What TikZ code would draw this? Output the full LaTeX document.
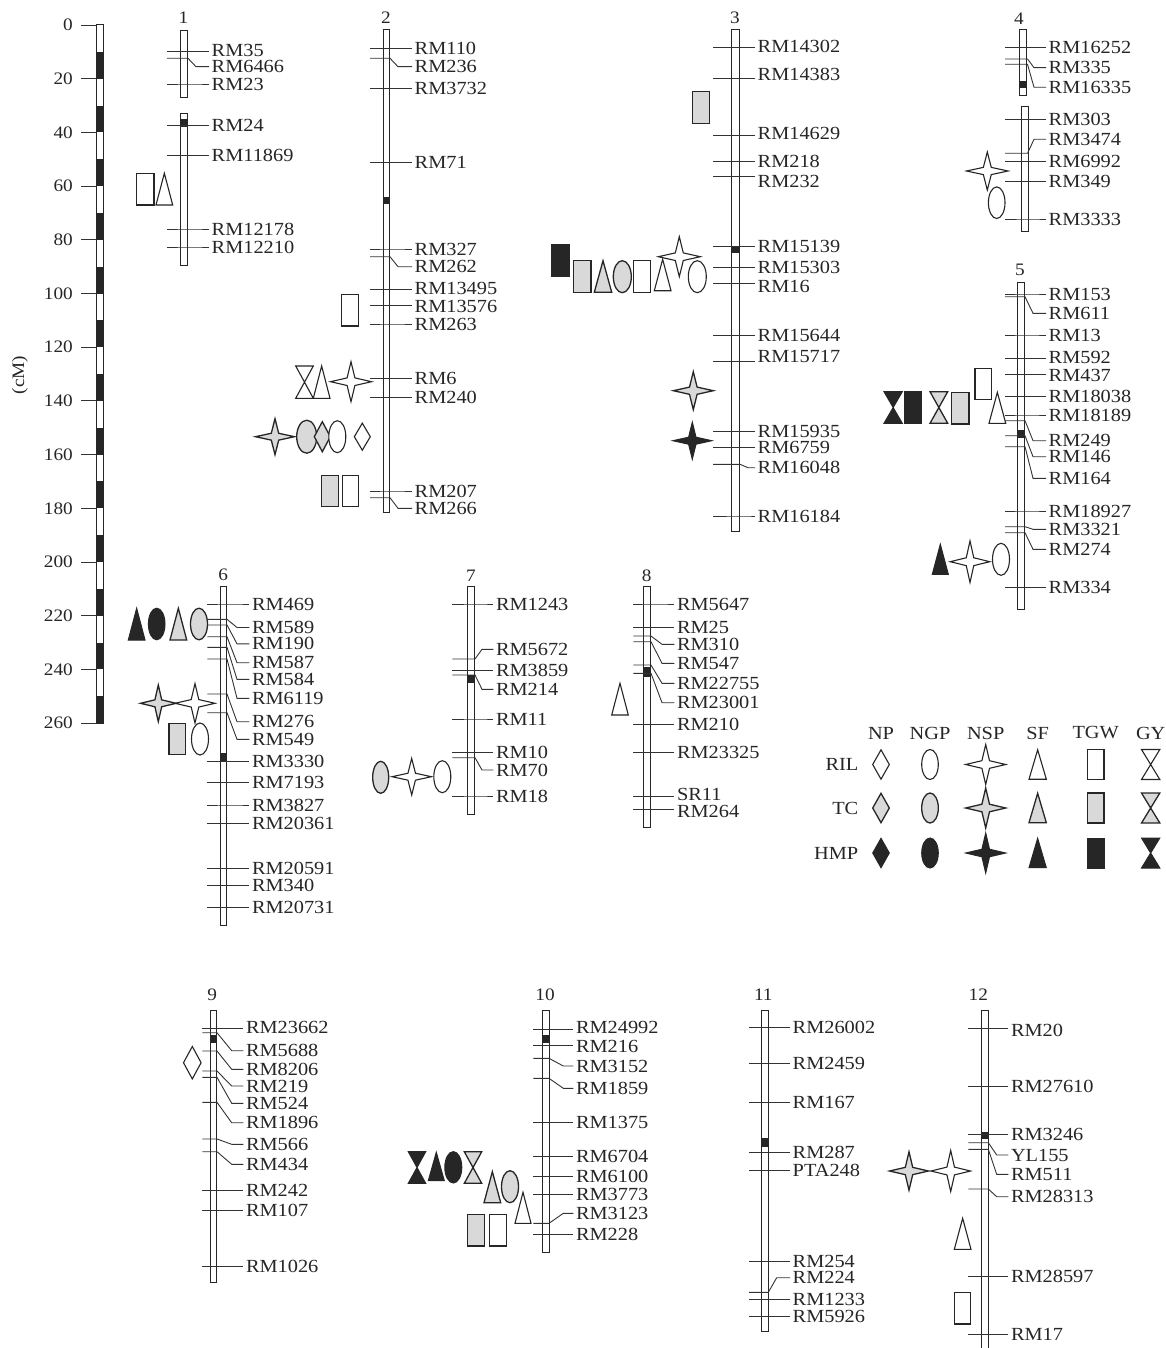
\documentclass[tikz,border=0pt]{standalone}
\usepackage{fontspec}
\setmainfont{Liberation Serif}[FakeStretch=1.1]
\newcommand{\lblf}{\fontsize{18.5}{22}\selectfont}
\newcommand{\numf}{\fontsize{17.5}{21}\selectfont}
\tikzset{
 lab/.style={anchor=west, inner sep=2.5pt, font=\lblf, text=black!85},
 mline/.style={draw=black!80, line width=0.9pt},
 chrom/.style={draw=black!85, line width=1pt, fill=white},
 cenb/.style={fill=black!85, draw=none},
 ril/.style={draw=black!85, line width=1.1pt, fill=white},
 tc/.style={draw=black!85, line width=1.3pt, fill=gray!30},
 hmp/.style={draw=black!85, line width=1pt, fill=black!85},
 chn/.style={font=\numf, text=black!85, inner sep=0pt},
}
\newcommand{\setchr}[4]{\def\cxl{#1}\def\cxr{#2}\def\cxb{#3}\def\cxe{#4}}
\newcommand{\mk}[3]{\node[lab] (#3) at (\cxe,#2) {#3};
 \draw[mline] (\cxl,#1) -- (\cxr,#1) -- (\cxb,#2) -- (#3.west);}
\newcommand{\mks}[3]{\node[lab] (#3) at (\cxe,#2) {#3};
 \draw[mline] (\cxl,#1) -- (\cxe,#1);}
\newcommand{\reS}[5]{\draw[#1] (#2,#3) rectangle (#4,#5);}
\newcommand{\triS}[5]{\draw[#1,line join=miter] ({(#2+#4)/2},#3) -- (#4,#5) -- (#2,#5) -- cycle;}
\newcommand{\hgS}[5]{\draw[#1,line join=miter] (#2,#3) -- (#4,#3) -- (#2,#5) -- (#4,#5) -- cycle;}
\newcommand{\elS}[5]{\draw[#1] (#2,#3) ellipse [x radius=#4pt, y radius=#5pt];}
\newcommand{\diaS}[5]{\draw[#1] (#2,#3-#5) -- (#2+#4,#3) -- (#2,#3+#5) -- (#2-#4,#3) -- cycle;}
\newcommand{\stS}[5]{\draw[#1] (#2,#3-#5) -- (#2+0.19*#4,#3-0.19*#5) -- (#2+#4,#3)
 -- (#2+0.19*#4,#3+0.19*#5) -- (#2,#3+#5)
 -- (#2-0.19*#4,#3+0.19*#5) -- (#2-#4,#3)
 -- (#2-0.19*#4,#3-0.19*#5) -- cycle;}
\begin{document}
\begin{tikzpicture}[x=1pt,y=-1pt]
\useasboundingbox[fill=white] (0,0) rectangle (1165,1348);
% ---------------- scale bar
\draw[chrom] (96,25) rectangle (103,723);
\foreach \k in {0,2,...,24}{\fill[black!85] (96,{25+(\k+1)*26.85}) rectangle (103,{25+(\k+2)*26.85});}
\draw[black!85,line width=1pt] (96,25) rectangle (103,723);
\foreach \v in {0,20,...,260}{
 \draw[mline] (81,{25+\v*2.685}) -- (96,{25+\v*2.685});
 \node[chn,anchor=east] (t\v) at (73,{25+\v*2.685}) {\v};}
\node[chn,rotate=90] (cM) at (20,375) {(cM)};
% ---------------- chromosome 1
\node[chn] (c1) at (183.5,18) {1};
\draw[chrom] (180.3,30.7) rectangle (187.3,98);
\draw[chrom] (180.3,113.3) rectangle (187.3,265);
\fill[cenb] (180.3,119.3) rectangle (187.3,126.7);
\setchr{167}{188}{196}{209}
\mks{51.7}{50.5}{RM35}\mk{58.3}{66.7}{RM6466}\mk{84}{84}{RM23}
\mk{125.7}{125.7}{RM24}\mk{155.3}{155.3}{RM11869}\mk{229}{229}{RM12178}\mk{247}{247}{RM12210}
\reS{ril}{136.7}{173.3}{154}{205}
\triS{ril}{156}{173.3}{172.7}{205}
% ---------------- chromosome 2
\node[chn] (c2) at (386,18) {2};
\draw[chrom] (383,29.3) rectangle (389.5,512.7);
\fill[cenb] (383,197.3) rectangle (389.5,204);
\setchr{370}{390}{398}{412}
\mk{48.7}{48.7}{RM110}\mk{58.3}{66.7}{RM236}\mk{88.3}{88.3}{RM3732}\mk{162.7}{162.7}{RM71}
\mk{249}{249}{RM327}\mk{256.7}{266.7}{RM262}\mks{289.3}{288.3}{RM13495}\mks{305}{306}{RM13576}
\mk{324}{324}{RM263}\mk{378.3}{378.3}{RM6}\mk{397.7}{397.7}{RM240}\mk{491}{491}{RM207}
\mk{497.7}{508.3}{RM266}
\reS{ril}{341.7}{294.3}{358.3}{326}
\hgS{ril}{295.7}{366}{313.3}{398.3}
\triS{ril}{313.3}{366}{330}{398.3}
\stS{ril}{351}{381.7}{20.5}{20}
\stS{tc}{275}{436.7}{19.5}{18}
\elS{tc}{306.7}{436.7}{10}{16.5}
\diaS{tc}{322.3}{436.7}{8}{15}
\elS{ril}{337.3}{436.7}{8.5}{16}
\diaS{ril}{362.3}{436.7}{8}{13.5}
\reS{tc}{321.7}{475.7}{338.3}{506.7}
\reS{ril}{342.3}{475.7}{358.3}{506.7}
% ---------------- chromosome 3
\node[chn] (c3) at (735,18) {3};
\draw[chrom] (731.7,29.3) rectangle (739,531.7);
\fill[cenb] (731.7,246) rectangle (739,253.3);
\setchr{713}{740}{748}{755}
\mks{47.7}{46}{RM14302}\mks{78.3}{74}{RM14383}\mks{135.7}{133.5}{RM14629}\mk{161.7}{161.7}{RM218}
\mks{176.7}{181}{RM232}\mk{246.7}{246.7}{RM15139}\mk{267.3}{267.3}{RM15303}\mks{283.3}{286}{RM16}
\mk{335.7}{335.7}{RM15644}\mks{361.7}{356}{RM15717}\mk{431.7}{431.7}{RM15935}\mk{447.7}{447.7}{RM6759}
\mk{464.3}{467.7}{RM16048}\mk{516}{516}{RM16184}
\reS{tc}{692.7}{91.7}{709.3}{123.3}
\reS{hmp}{551}{244.3}{569}{276}
\reS{tc}{573.3}{260.7}{591}{292.3}
\triS{tc}{594.3}{260.7}{611.7}{292.3}
\elS{tc}{622.3}{276.7}{9}{16}
\reS{ril}{633.3}{260.7}{650.7}{292.3}
\triS{ril}{654.3}{259.3}{671}{290.7}
\stS{ril}{679.3}{256.7}{21}{20}
\elS{ril}{697.3}{276.7}{9}{16}
\stS{tc}{693.3}{390.7}{20}{19}
\stS{hmp}{692.3}{440.7}{19.5}{18.5}
% ---------------- chromosome 4
\node[chn] (c4) at (1019,18.3) {4};
\draw[chrom] (1019.3,29.3) rectangle (1026.7,96);
\fill[cenb] (1019.3,81) rectangle (1026.7,88.3);
\draw[chrom] (1021,106.7) rectangle (1028.3,231.7);
\setchr{1005}{1027.5}{1034}{1046}
\mk{47.7}{47.7}{RM16252}\mk{59}{67.7}{RM335}\mk{64.3}{87.3}{RM16335}
\mk{119.3}{119.3}{RM303}\mk{153.3}{139.3}{RM3474}\mk{161.3}{161.3}{RM6992}
\mk{181.7}{181.7}{RM349}\mk{219}{219}{RM3333}
\stS{ril}{987.3}{171}{20.8}{19}
\elS{ril}{996.7}{202.7}{8.3}{15.8}
% ---------------- chromosome 5
\node[chn] (c5) at (1020,270) {5};
\draw[chrom] (1017.3,282.7) rectangle (1024.3,609.3);
\fill[cenb] (1017.3,430) rectangle (1024.3,437.7);
\setchr{1005}{1025}{1033}{1046}
\mk{294}{294}{RM153}\mk{296.7}{313.3}{RM611}\mk{335}{335}{RM13}\mks{358.3}{357.3}{RM592}
\mks{374}{375}{RM437}\mk{396.7}{396.7}{RM18038}\mk{415}{415}{RM18189}\mk{420.7}{440.7}{RM249}
\mk{435.7}{456.7}{RM146}\mk{446.7}{478.3}{RM164}\mk{511}{511}{RM18927}\mk{526.7}{529.3}{RM3321}
\mk{532.7}{549.3}{RM274}\mk{587.7}{587.7}{RM334}
\hgS{hmp}{884}{391.7}{902.3}{423.3}
\reS{hmp}{904.3}{391.7}{921.7}{423.3}
\hgS{tc}{930}{391.7}{947.7}{423.3}
\reS{tc}{951.7}{392.3}{969}{424}
\reS{ril}{975}{368.3}{991.7}{399.3}
\triS{ril}{989}{392.3}{1005.7}{423.3}
\triS{hmp}{932.3}{544.3}{948.3}{574.3}
\stS{ril}{970}{561.7}{19.7}{20.8}
\elS{ril}{1001}{559.3}{8.5}{16}
% ---------------- chromosome 6
\node[chn] (c6) at (223.3,575) {6};
\draw[chrom] (220,586) rectangle (226,925.7);
\fill[cenb] (220,753.3) rectangle (226,761.7);
\setchr{207.3}{227}{237}{249.3}
\mk{604}{604}{RM469}\mk{619.3}{627.5}{RM589}\mk{625}{643.8}{RM190}\mk{636.7}{662.7}{RM587}
\mk{647.3}{679.3}{RM584}\mk{659}{698.3}{RM6119}\mk{694}{721.7}{RM276}\mk{712.7}{739.3}{RM549}
\mk{761.7}{761.7}{RM3330}\mk{782.3}{782.3}{RM7193}\mk{805}{805}{RM3827}\mk{823.3}{823.3}{RM20361}
\mk{868.3}{868.3}{RM20591}\mk{885.7}{885.7}{RM340}\mk{907.7}{907.7}{RM20731}
\triS{hmp}{128.3}{608.3}{145}{640}
\elS{hmp}{156.7}{624}{8.3}{15.8}
\triS{tc}{170}{608.3}{186.7}{640}
\elS{tc}{199}{624}{8.5}{15.8}
\stS{tc}{158.3}{703.3}{17.8}{18.3}
\stS{ril}{195}{703.3}{20}{19.7}
\reS{tc}{169}{723.3}{185.7}{754.3}
\elS{ril}{200}{739}{8.5}{16}
% ---------------- chromosome 7
\node[chn] (c7) at (471,576) {7};
\draw[chrom] (467.7,586) rectangle (474.3,814);
\fill[cenb] (467.7,675) rectangle (474.3,683.3);
\setchr{452.3}{475}{482}{493.3}
\mk{604}{604}{RM1243}\mk{659}{649.3}{RM5672}\mk{670.5}{670.5}{RM3859}\mk{675}{689.3}{RM214}
\mk{719}{719}{RM11}\mk{752.3}{752.3}{RM10}\mk{757.7}{770}{RM70}\mk{796}{796}{RM18}
\elS{tc}{380.7}{777.3}{8}{16}
\stS{ril}{411.7}{776.7}{19.7}{18.3}
\elS{ril}{442.3}{776.7}{8.5}{16}
% ---------------- chromosome 8
\node[chn] (c8) at (646.7,576) {8};
\draw[chrom] (643.3,586) rectangle (650,827.3);
\fill[cenb] (643.3,667.3) rectangle (650,676.7);
\setchr{633.3}{651}{662}{674.3}
\mk{604}{604}{RM5647}\mk{627.7}{627.7}{RM25}\mk{636}{644.3}{RM310}\mk{641.7}{663.3}{RM547}
\mk{665}{683.3}{RM22755}\mk{673.3}{702.7}{RM23001}\mk{724.3}{724.3}{RM210}\mk{752.7}{752.7}{RM23325}
\mks{796}{794}{SR11}\mks{809.3}{811}{RM264}
\triS{ril}{611.7}{683.3}{628.3}{715}
% ---------------- chromosome 9
\node[chn] (c9) at (212.3,995) {9};
\draw[chrom] (210,1010) rectangle (216.7,1282);
\fill[cenb] (210,1035) rectangle (216.7,1043.3);
\setchr{202.3}{217}{231.7}{243.3}
\mks{1028.3}{1027}{RM23662}\mk{1032.7}{1050.7}{RM5688}\mk{1051}{1069.3}{RM8206}
\mk{1071}{1086}{RM219}\mk{1077.3}{1103.3}{RM524}\mk{1102.3}{1122.7}{RM1896}
\mk{1139}{1144.3}{RM566}\mk{1151.7}{1164.3}{RM434}\mk{1190.7}{1190.7}{RM242}
\mk{1210}{1210}{RM107}\mk{1266.7}{1266.7}{RM1026}
\diaS{ril}{192.3}{1062.7}{8.8}{16.2}
% ---------------- chromosome 10
\node[chn] (c10) at (545,995) {10};
\draw[chrom] (542.3,1010) rectangle (549,1252);
\fill[cenb] (542.3,1035) rectangle (549,1043.3);
\setchr{533.3}{549}{563.3}{573.3}
\mks{1029}{1027.5}{RM24992}\mks{1045}{1046}{RM216}\mk{1058.3}{1066}{RM3152}\mk{1078.3}{1088.3}{RM1859}
\mk{1122.3}{1122.3}{RM1375}\mk{1156.7}{1156.7}{RM6704}\mk{1176.7}{1176.7}{RM6100}
\mk{1194.3}{1194.3}{RM3773}\mk{1223.3}{1213.3}{RM3123}\mk{1234}{1234}{RM228}
\hgS{hmp}{408.3}{1151.7}{425.7}{1183.3}
\triS{hmp}{428.3}{1152.3}{444.3}{1180.7}
\elS{hmp}{453.3}{1167.3}{8.5}{15.7}
\hgS{tc}{464.3}{1151.7}{481.7}{1183.3}
\triS{tc}{484}{1171.7}{500.7}{1202.7}
\elS{tc}{510}{1186.7}{8.5}{16}
\triS{ril}{515}{1192.3}{531}{1223.3}
\reS{tc}{467.7}{1214.3}{484.3}{1246}
\reS{ril}{489.3}{1214.3}{506.7}{1246}
% ---------------- chromosome 11
\node[chn] (c11) at (763.3,995) {11};
\draw[chrom] (761,1010) rectangle (768.3,1331.7);
\fill[cenb] (761,1138.3) rectangle (768.3,1146.7);
\setchr{749}{768.3}{776.7}{790}
\mk{1027.7}{1027.7}{RM26002}\mk{1063.3}{1063.3}{RM2459}\mk{1102.7}{1102.7}{RM167}
\mk{1152.7}{1152.7}{RM287}\mk{1170.7}{1170.7}{PTA248}\mk{1261}{1261}{RM254}
\mk{1292.3}{1277.7}{RM224}\mk{1299}{1299}{RM1233}\mk{1316.7}{1316.7}{RM5926}
% ---------------- chromosome 12
\node[chn] (c12) at (978.3,995) {12};
\draw[chrom] (981,1010) rectangle (988.3,1352);
\fill[cenb] (981,1131.7) rectangle (988.3,1139.3);
\setchr{968.3}{988.3}{996.7}{1008.3}
\mks{1028.3}{1030.7}{RM20}\mk{1086}{1086}{RM27610}\mk{1134}{1134}{RM3246}
\mk{1142.7}{1155}{YL155}\mk{1149.3}{1174.3}{RM511}\mk{1189}{1196.7}{RM28313}
\mk{1276.7}{1276.7}{RM28597}\mk{1334.3}{1334.3}{RM17}
\stS{tc}{909}{1171}{19.5}{19.2}
\stS{ril}{950.7}{1171}{19.8}{20.5}
\triS{ril}{954.3}{1218.3}{971}{1249.3}
\reS{ril}{954.3}{1292.3}{970.7}{1324}
% ---------------- legend
\foreach \t/\x in {NP/881,NGP/930,NSP/985.7,SF/1037.7,TGW/1095.7,GY/1150.7}{
 \node[lab,anchor=center] (h\t) at (\x,733) {\t};}
\foreach \t/\y in {RIL/764.5,TC/808,HMP/853}{
 \node[lab,anchor=east] (r\t) at (861,\y) {\t};}
\foreach \s/\y in {ril/764.5,tc/808,hmp/853}{
 \diaS{\s}{881}{\y}{8.3}{14.7}
 \elS{\s}{930}{\y}{8.3}{15}
 \stS{\s}{985.7}{\y}{20}{20}
 \triS{\s}{1029}{\y-14.7}{1046.3}{\y+14.7}
 \reS{\s}{1087.3}{\y-15}{1104}{\y+15}
 \hgS{\s}{1141.5}{\y-15}{1159.8}{\y+15}
}
\end{tikzpicture}
\end{document}
